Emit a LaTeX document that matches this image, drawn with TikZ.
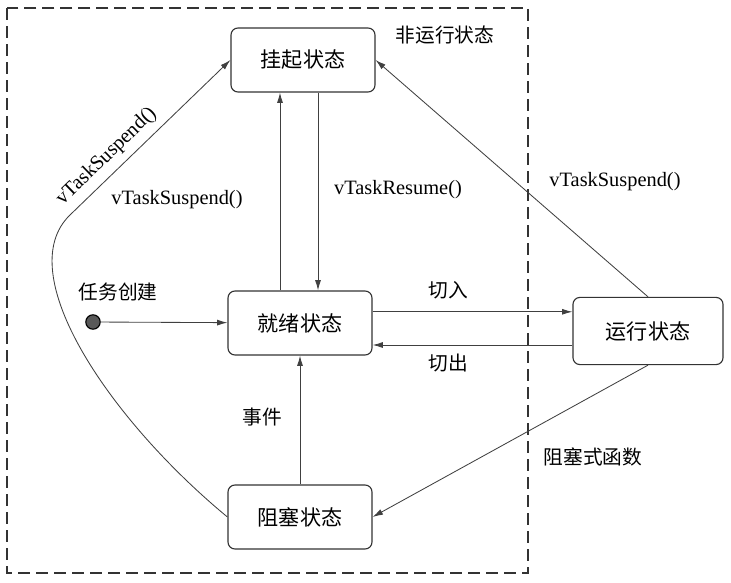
\documentclass[tikz,border=0pt]{standalone}
\usepackage{fontspec}
\setmainfont{Liberation Serif}
\newfontfamily\cjk{Noto Sans CJK SC}
\usetikzlibrary{positioning,arrows.meta,calc}

\begin{document}
\begin{tikzpicture}[
  x=0.025cm, y=-0.025cm,
  state/.style={draw=black!80, line width=0.8pt, rounded corners=5pt, minimum width=3.6cm, minimum height=1.6cm, font=\cjk\fontsize{15}{17}\selectfont, fill=white},
  startdot/.style={circle, draw=black, line width=0.8pt, fill=black!65, minimum size=0.36cm, inner sep=0pt},
  arr/.style={-{Latex[length=2.6mm, width=1.5mm]}, draw=black!75, line width=0.6pt},
  lab/.style={font=\fontsize{14.5}{16}\selectfont, inner sep=1pt},
  clab/.style={font=\cjk\fontsize{14}{16}\selectfont, inner sep=1pt},
  frame/.style={draw=black!80, line width=0.8pt, dash pattern=on 0.3cm off 0.15cm}
]
\useasboundingbox (0,0) rectangle (731,583);
% non-running region
\draw[frame] (7,8) rectangle (528,573);
\node[clab] (nonrun) at (445,35) {非运行状态};
% states
\node[state] (susp) at (303,60) {挂起状态};
\node[state] (ready) at (300,323) {就绪状态};
\node[state] (block) at (300,517) {阻塞状态};
\node[state, minimum width=3.75cm, minimum height=1.68cm] (run) at (648,331) {运行状态};
\node[startdot] (init) at (93,322) {};
\node[clab] (create) at (118,292) {任务创建};
% ready <-> suspended
\draw[arr] (init) -- (ready);
\draw[arr] ([xshift=-0.5cm]ready.north) -- ([xshift=-0.5cm]ready.north |- susp.south);
\draw[arr] ([xshift=0.45cm]ready.north |- susp.south) -- ([xshift=0.45cm]ready.north);
\node[lab] (susplab) at (177,200) {vTaskSuspend()};
\node[lab] (reslab) at (398,190) {vTaskResume()};
% ready <-> running
\draw[arr] ([yshift=0.28cm]ready.east) -- ([yshift=0.28cm]ready.east -| run.west);
\draw[arr] ([yshift=-0.55cm]ready.east -| run.west) -- ([yshift=-0.55cm]ready.east);
\node[clab] (inlab) at (448,290) {切入};
\node[clab] (outlab) at (448,363) {切出};
% running -> suspended / blocked
\draw[arr] (run.north) -- (susp.east);
\node[lab] (runsusp) at (615,182) {vTaskSuspend()};
\draw[arr] (run.south) -- (block.east);
\node[clab] (blklab) at (593,457) {阻塞式函数};
% blocked -> ready, blocked -> suspended
\draw[arr] (block) -- (ready);
\node[clab] (evlab) at (262,417) {事件};
\coordinate (bend) at (70,215);
\draw[arr] (block.west) .. controls (110,420) and (10,273) .. (bend)
  -- node[lab, sloped, above=4pt, pos=0.3] {vTaskSuspend()} (susp.west);
\end{tikzpicture}
\end{document}
